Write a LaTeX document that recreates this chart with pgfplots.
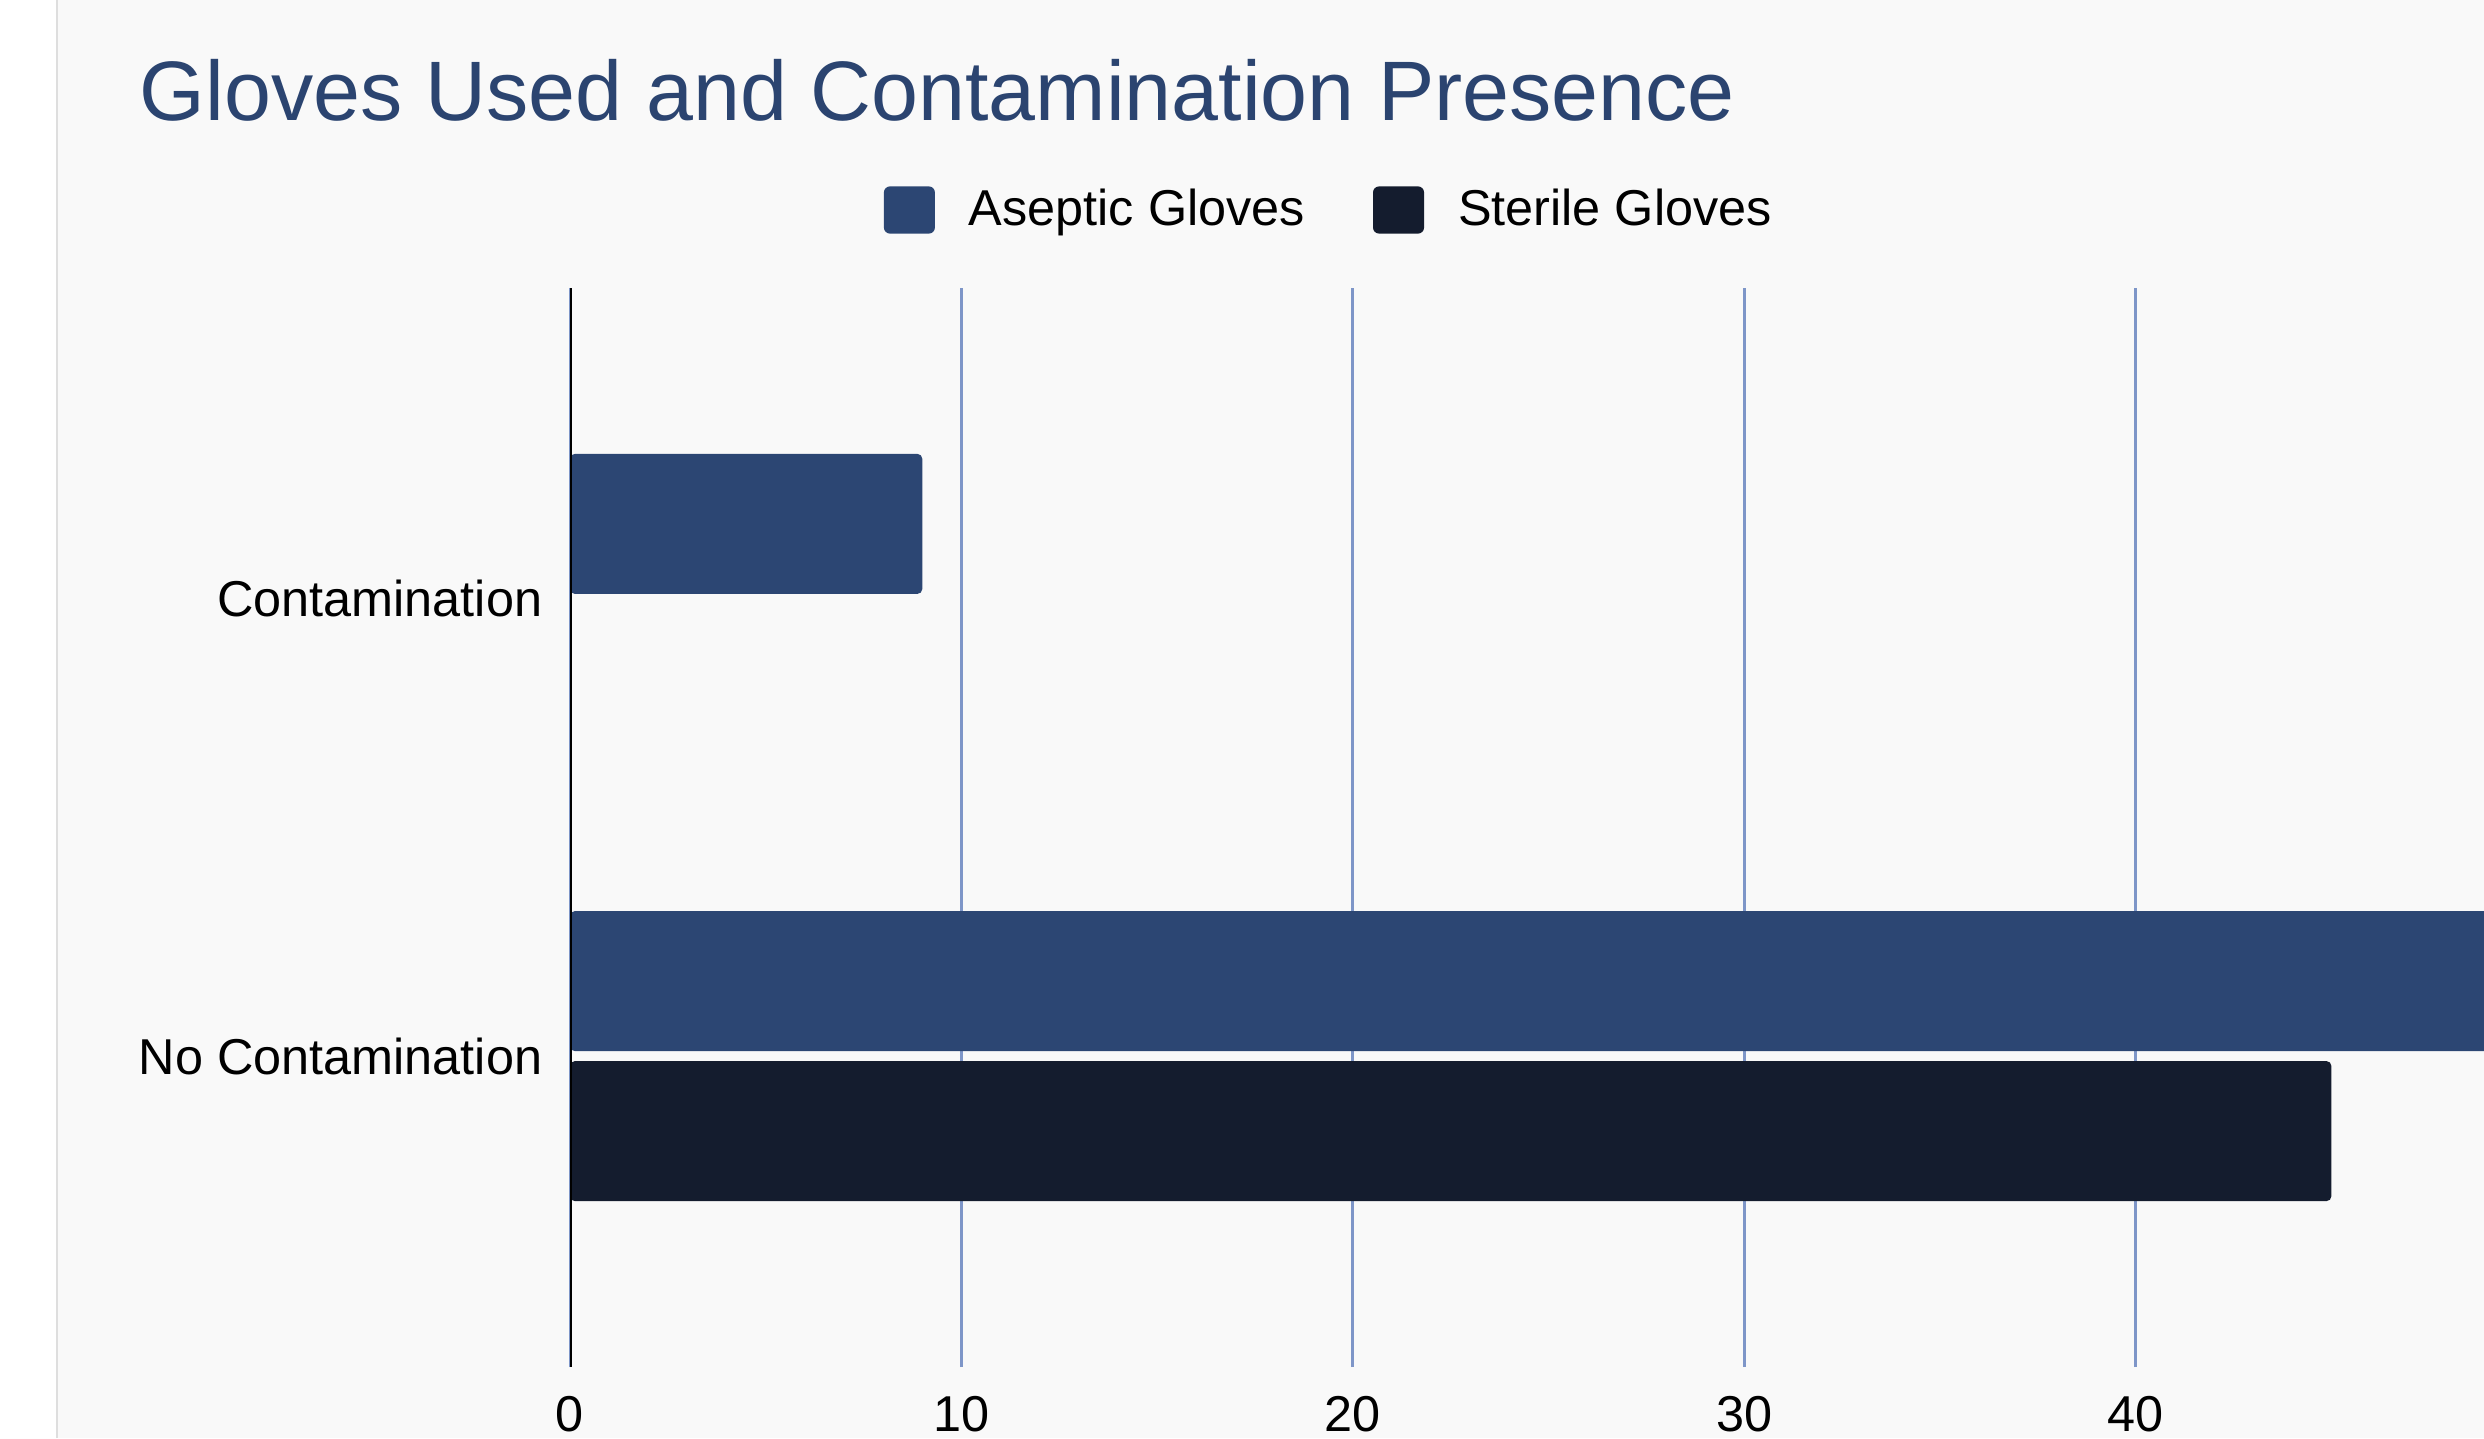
\documentclass[border=0pt]{standalone}
\usepackage{fontspec}
\setmainfont{Liberation Sans}
\usepackage{pgfplots}
\pgfplotsset{compat=1.18}
\definecolor{aseptic}{RGB}{44,70,115}
\definecolor{sterile}{RGB}{20,28,46}
\definecolor{gridc}{RGB}{126,150,200}
\definecolor{bgc}{RGB}{249,249,249}
\definecolor{titlec}{RGB}{43,68,112}
\definecolor{borderc}{RGB}{222,222,222}
\begin{document}
\begin{tikzpicture}
\useasboundingbox (0,0) rectangle (621pt,359.5pt);
\fill[white] (0,0) rectangle (621pt,359.5pt);
\fill[bgc] (14.25pt,0) rectangle (621pt,359.5pt);
\draw[borderc, line width=0.5pt] (14.25pt,0) -- (14.25pt,359.5pt);
\node[anchor=base west, inner sep=0pt, text=titlec, font=\fontsize{21.1pt}{25pt}\selectfont] at (34.75pt,329.3pt) {Gloves Used and Contamination Presence};
\begin{axis}[
  at={(142.5pt,17.75pt)}, anchor=south west,
  scale only axis, width=478.5pt, height=269.75pt,
  xbar, xmin=0, xmax=48.9, ymin=-0.68, ymax=1.68,
  axis line style={draw=none},
  xtick={0,10,20,30,40},
  ytick={0,1}, yticklabels={No Contamination,Contamination},
  major tick length=0pt,
  xmajorgrids, grid style={gridc, line width=0.75pt},
  /pgf/number format/assume math mode=true,
  xticklabel style={font=\fontsize{12.6pt}{15pt}\selectfont, text=black, inner sep=0pt, anchor=north, yshift=-7pt},
  yticklabel style={font=\fontsize{12.6pt}{15pt}\selectfont, text=black, inner sep=0pt, anchor=east, xshift=-6.75pt},
  bar width=35pt,
  legend columns=2,
  legend style={draw=none, fill=none, inner sep=0pt, outer sep=0pt,
    at={(axis description cs:0.164,1)}, anchor=west, yshift=19.5pt,
    font=\fontsize{12.6pt}{15pt}\selectfont,
    nodes={inner sep=0pt, anchor=west},
    /tikz/every odd column/.append style={column sep=8.5pt},
    /tikz/every even column/.append style={column sep=17pt}},
  legend image code/.code={\fill[#1, rounded corners=1.5pt] (0pt,-5.9pt) rectangle (12.75pt,5.9pt);},
]
\addplot[fill=aseptic, draw=none, rounded corners=1.2pt, bar shift=18.75pt] coordinates {(55,0) (9,1)};
\addlegendentry{Aseptic Gloves}
\addplot[fill=sterile, draw=none, rounded corners=1.2pt, bar shift=-18.75pt] coordinates {(45,0) (0,1)};
\addlegendentry{Sterile Gloves}
\draw[black, line width=0.75pt] (axis cs:0,-0.68) -- (axis cs:0,1.68);
\end{axis}
\end{tikzpicture}
\end{document}
